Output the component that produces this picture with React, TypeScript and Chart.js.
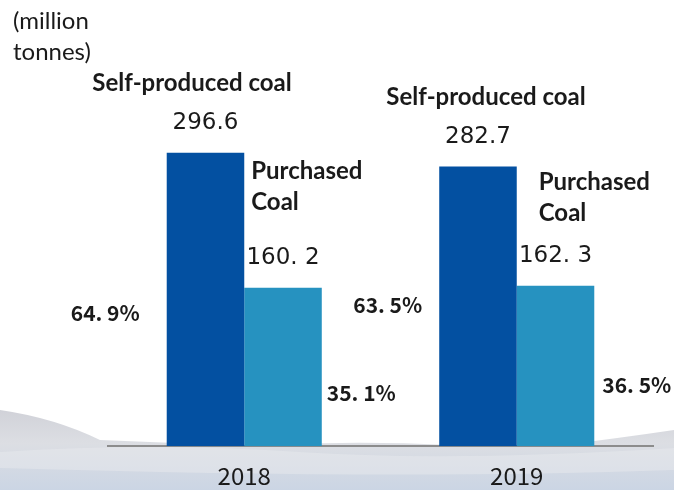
import { useEffect, useRef } from "react";
import { Chart, registerables } from "chart.js";

Chart.register(...registerables);

// ---- data ----
const years = ["2018", "2019"];
const selfProduced = [296.6, 282.7];
const purchased = [160.2, 162.3];
const selfProducedText = ["296.6", "282.7"];
const purchasedText = ["160. 2", "162. 3"];
const selfShareText = ["64. 9%", "63. 5%"];
const purchasedShareText = ["35. 1%", "36. 5%"];
const unitLines = ["(million", "tonnes)"];
const selfName = "Self-produced coal";
const purchasedNameLines = ["Purchased", "Coal"];

// ---- annotation layout (relative to bar elements) ----
const NOTE_LAYOUT = [
  { nameDx: -13.5, purchDx: 7, purchDy: 26, selfPctGap: 27, selfPctDy: -125, purchPctGap: 5, purchPctDy: -45 },
  { nameDx: 8, purchDx: 22, purchDy: 23, selfPctGap: 17, selfPctDy: -133, purchPctGap: 8, purchPctDy: -53 },
];

const DARK = "#0350a1";
const LIGHT = "#2692c0";
const TEXT = "#1a1a1a";
const LATIN = "Lato, 'Open Sans', sans-serif";
const NUM = "'DejaVu Sans', sans-serif";
const CJK = "'Noto Sans CJK SC', 'Noto Sans', sans-serif";

const backgroundPlugin = {
  id: "bgMountains",
  beforeDraw(chart: any) {
    const { ctx, width, height } = chart;
    ctx.save();
    ctx.fillStyle = "#ffffff";
    ctx.fillRect(0, 0, width, height);

    const g = ctx.createLinearGradient(0, 405, 0, height);
    g.addColorStop(0, "#cfd0d7");
    g.addColorStop(0.45, "#dcdee3");
    g.addColorStop(1, "#cbd5e4");
    ctx.fillStyle = g;
    ctx.beginPath();
    ctx.moveTo(0, 410);
    ctx.quadraticCurveTo(55, 418, 100, 440);
    ctx.lineTo(250, 446);
    ctx.quadraticCurveTo(350, 440, 450, 445);
    ctx.lineTo(555, 446);
    ctx.quadraticCurveTo(620, 438, width, 430);
    ctx.lineTo(width, height);
    ctx.lineTo(0, height);
    ctx.closePath();
    ctx.fill();

    ctx.globalAlpha = 0.5;
    ctx.fillStyle = "#e8eaee";
    ctx.beginPath();
    ctx.moveTo(0, 452);
    ctx.quadraticCurveTo(150, 442, 300, 452);
    ctx.quadraticCurveTo(450, 462, width, 448);
    ctx.lineTo(width, 470);
    ctx.quadraticCurveTo(400, 480, 0, 468);
    ctx.closePath();
    ctx.fill();
    ctx.restore();
  },
};

const notesPlugin = {
  id: "notes",
  afterDatasetsDraw(chart: any) {
    const { ctx } = chart;
    const dark = chart.getDatasetMeta(0).data;
    const light = chart.getDatasetMeta(1).data;
    ctx.save();
    ctx.fillStyle = TEXT;
    ctx.textBaseline = "alphabetic";

    // unit label
    ctx.font = `24px ${LATIN}`;
    ctx.textAlign = "left";
    ctx.fillText(unitLines[0], 13, 29);
    ctx.fillText(unitLines[1], 13, 60);

    years.forEach((_, i) => {
      const L = NOTE_LAYOUT[i];
      const d = dark[i].getProps(["x", "y", "width", "base"], true);
      const l = light[i].getProps(["x", "y", "width", "base"], true);
      const dLeft = d.x - d.width / 2;
      const dRight = d.x + d.width / 2;
      const lRight = l.x + l.width / 2;

      // series name above dark bar
      ctx.font = `bold 24px ${LATIN}`;
      ctx.textAlign = "center";
      ctx.fillText(selfName, d.x + L.nameDx, d.y - 62);

      // purchased name
      ctx.textAlign = "left";
      ctx.fillText(purchasedNameLines[0], dRight + L.purchDx, d.y + L.purchDy);
      ctx.fillText(purchasedNameLines[1], dRight + L.purchDx, d.y + L.purchDy + 31);

      // values
      ctx.font = `23px ${NUM}`;
      ctx.textAlign = "center";
      ctx.fillText(selfProducedText[i], d.x, d.y - 24);
      ctx.fillText(purchasedText[i], l.x, l.y - 24);

      // shares
      ctx.font = `bold 21px ${CJK}`;
      ctx.textAlign = "right";
      ctx.fillText(selfShareText[i], dLeft - L.selfPctGap, d.base + L.selfPctDy);
      ctx.textAlign = "left";
      ctx.fillText(purchasedShareText[i], lRight + L.purchPctGap, l.base + L.purchPctDy);
    });
    ctx.restore();
  },
};

export default function App() {
  const ref = useRef<HTMLCanvasElement | null>(null);

  useEffect(() => {
    document.body.style.margin = "0";
    if (!ref.current) return;
    const chart = new Chart(ref.current, {
      type: "bar",
      data: {
        labels: years,
        datasets: [
          {
            label: selfName,
            data: selfProduced,
            backgroundColor: DARK,
            barPercentage: 1,
            categoryPercentage: 0.569,
          },
          {
            label: purchasedNameLines.join(" "),
            data: purchased,
            backgroundColor: LIGHT,
            barPercentage: 1,
            categoryPercentage: 0.569,
          },
        ],
      },
      options: {
        responsive: false,
        animation: false,
        layout: { padding: { left: 108, right: 21, top: 100, bottom: -15 } },
        plugins: {
          legend: { display: false },
          tooltip: { enabled: false },
        },
        scales: {
          x: {
            grid: { display: false, drawTicks: false },
            border: { display: true, color: "#8c8c8c", width: 2 },
            ticks: {
              color: TEXT,
              padding: 15,
              font: { family: CJK, size: 24 },
            },
          },
          y: { display: false, min: 0, max: 350 },
        },
      },
      plugins: [backgroundPlugin, notesPlugin],
    });
    return () => chart.destroy();
  }, []);

  return (
    <div style={{ width: 674, height: 490 }}>
      <canvas ref={ref} width={674} height={490} style={{ display: "block" }} />
    </div>
  );
}
